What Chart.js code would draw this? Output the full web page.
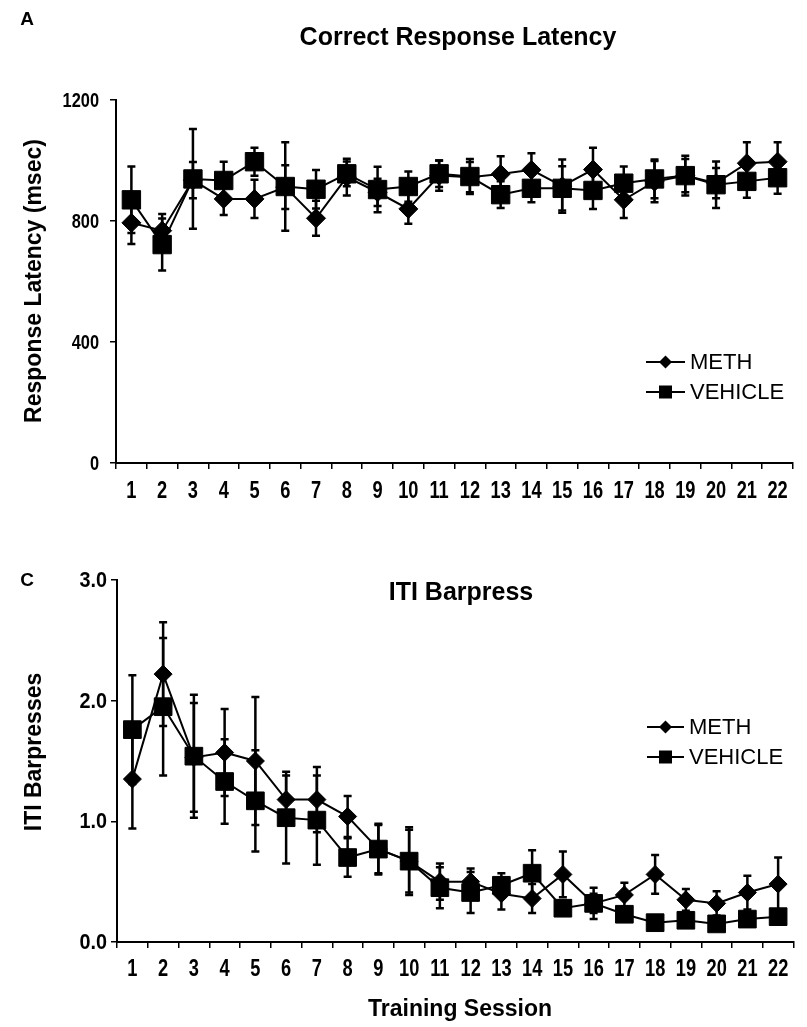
<!DOCTYPE html>
<html>
<head>
<meta charset="utf-8">
<script src="https://cdn.jsdelivr.net/npm/chart.js@4.4.0/dist/chart.umd.min.js"></script>
<style>
  html, body { margin: 0; padding: 0; background: #fff; }
  #page { position: relative; width: 807px; height: 1027px; overflow: hidden; }
  #latency { position: absolute; left: 0; top: 0; }
  #iti { position: absolute; left: 0; top: 540px; }
</style>
</head>
<body>
<div id="page">
  <canvas id="latency" width="807" height="520"></canvas>
  <canvas id="iti" width="807" height="487"></canvas>
</div>
<script>
// Training sessions on the x axis
const sessions = ['1','2','3','4','5','6','7','8','9','10','11','12','13','14','15','16','17','18','19','20','21','22'];

// Panel A: correct response latency (msec), mean and SEM
const latencyMeth       = [794, 768, 935, 873, 873, 912, 809, 945, 895, 840, 950, 945, 955, 969, 915, 970, 870, 930, 950, 925, 991, 996];
const latencyMethErr    = [ 70,  55,  60,  53,  63,  72,  58,  61,  45,  49,  50,  50,  59,  55,  88,  72,  60,  68,  55,  50,  69,  64];
const latencyVehicle    = [870, 722, 939, 934, 996, 914, 905, 956, 904, 914, 956, 947, 887, 908, 908, 901, 925, 939, 950, 920, 931, 943];
const latencyVehicleErr = [110,  86, 165,  62,  46, 146,  64,  41,  75,  50,  44,  58,  44,  46,  73,  61,  55,  64,  66,  77,  54,  53];
const latencyTicks      = [0, 400, 800, 1200];

// Panel C: ITI barpresses, mean and SEM
const itiMeth       = [1.35, 2.22, 1.53, 1.57, 1.50, 1.18, 1.18, 1.04, 0.77, 0.67, 0.50, 0.50, 0.40, 0.36, 0.56, 0.32, 0.39, 0.56, 0.35, 0.32, 0.41, 0.48];
const itiMethErr    = [0.41, 0.43, 0.45, 0.36, 0.53, 0.20, 0.27, 0.17, 0.20, 0.28, 0.15, 0.11, 0.13, 0.12, 0.19, 0.08, 0.10, 0.16, 0.09, 0.10, 0.14, 0.22];
const itiVehicle    = [1.76, 1.95, 1.54, 1.33, 1.17, 1.03, 1.01, 0.70, 0.77, 0.67, 0.45, 0.41, 0.47, 0.57, 0.28, 0.32, 0.23, 0.16, 0.18, 0.15, 0.19, 0.21];
const itiVehicleErr = [0.45, 0.57, 0.51, 0.35, 0.42, 0.38, 0.37, 0.16, 0.21, 0.26, 0.17, 0.17, 0.10, 0.19, 0.06, 0.13, 0.05, 0.04, 0.04, 0.04, 0.05, 0.06];
const itiTicks      = [0, 1, 2, 3];

const seriesNames = ['METH', 'VEHICLE'];

const SANS = "'Liberation Sans', Arial, Helvetica, sans-serif";

// Text helper: anchor, optional horizontal squeeze (narrow face look) and rotation
function drawText(ctx, t) {
  ctx.save();
  ctx.fillStyle = '#000';
  ctx.font = t.font;
  ctx.textAlign = t.align || 'center';
  ctx.textBaseline = 'middle';
  ctx.translate(t.x, t.y);
  ctx.scale(t.sx || 1, 1);
  if (t.rotate) ctx.rotate(t.rotate);
  ctx.fillText(t.text, 0, 0);
  ctx.restore();
}

// Vertical SEM bars with caps, drawn beneath the markers
const errorBars = {
  id: 'errorBars',
  beforeDatasetsDraw(chart, args, opts) {
    const ctx = chart.ctx;
    const y = chart.scales.y;
    const cap = opts.cap;
    ctx.save();
    ctx.strokeStyle = '#000';
    ctx.lineWidth = opts.width;
    chart.data.datasets.forEach((ds, di) => {
      if (!ds.errors || !chart.isDatasetVisible(di)) return;
      const meta = chart.getDatasetMeta(di);
      ds.data.forEach((v, i) => {
        const e = ds.errors[i];
        const px = meta.data[i].x;
        const hi = y.getPixelForValue(v + e);
        const lo = y.getPixelForValue(Math.max(0, v - e));
        ctx.beginPath();
        ctx.moveTo(px, hi); ctx.lineTo(px, lo);
        ctx.moveTo(px - cap, hi); ctx.lineTo(px + cap, hi);
        ctx.moveTo(px - cap, lo); ctx.lineTo(px + cap, lo);
        ctx.stroke();
      });
    });
    ctx.restore();
  }
};

// Line-and-marker key, one row per series
const seriesKey = {
  id: 'seriesKey',
  afterDraw(chart, args, opts) {
    const ctx = chart.ctx;
    chart.data.datasets.forEach((ds, di) => {
      const yy = opts.rows[di];
      ctx.save();
      ctx.fillStyle = '#000';
      ctx.strokeStyle = '#000';
      ctx.lineWidth = 2;
      ctx.beginPath();
      ctx.moveTo(opts.lineFrom, yy);
      ctx.lineTo(opts.lineTo, yy);
      ctx.stroke();
      const cx = (opts.lineFrom + opts.lineTo) / 2;
      ctx.beginPath();
      if (ds.pointStyle === 'rectRot') {
        const r = opts.diamond;
        ctx.moveTo(cx, yy - r); ctx.lineTo(cx + r, yy); ctx.lineTo(cx, yy + r); ctx.lineTo(cx - r, yy);
      } else {
        const h = opts.square;
        ctx.rect(cx - h, yy - h, 2 * h, 2 * h);
      }
      ctx.closePath();
      ctx.fill();
      ctx.restore();
      drawText(ctx, { text: ds.label, x: opts.textX, y: yy + 1, font: opts.font, align: 'left' });
    });
  }
};

// Tick labels placed on the scales' own tick positions, plus panel letter and headings
const figureText = {
  id: 'figureText',
  afterDraw(chart, args, opts) {
    const ctx = chart.ctx;
    const xs = chart.scales.x, ys = chart.scales.y;
    xs.ticks.forEach((t, i) => {
      drawText(ctx, { text: xs.getLabelForValue(t.value), x: xs.getPixelForTick(i), y: opts.xLabelY,
        font: opts.xTickFont, sx: opts.xSqueeze });
    });
    ys.ticks.forEach((t, i) => {
      drawText(ctx, { text: opts.yFormat(t.value), x: opts.yLabelRight, y: ys.getPixelForTick(i) + 1,
        font: opts.yTickFont, sx: opts.ySqueeze, align: 'right' });
    });
    opts.items.forEach(it => drawText(ctx, it));
  }
};

function series(label, data, errors, style, radius, order) {
  return {
    label, data, errors,
    borderColor: '#000', backgroundColor: '#000',
    borderWidth: 2,
    pointStyle: style, pointRadius: radius, pointHoverRadius: radius,
    pointBackgroundColor: '#000', pointBorderColor: '#000', pointBorderWidth: 1,
    tension: 0, fill: false, order
  };
}

function axisX(height) {
  return {
    type: 'category',
    offset: true,
    afterFit(s) { s.height = height; },
    ticks: { display: false, autoSkip: false },
    grid: { offset: true, drawOnChartArea: false, drawTicks: true, tickLength: 6, color: '#000', lineWidth: 1.5 },
    border: { display: true, color: '#000', width: 2 }
  };
}

function axisY(width, min, max, ticks) {
  return {
    min, max,
    afterFit(s) { s.width = width; },
    afterBuildTicks(s) { s.ticks = ticks.map(v => ({ value: v })); },
    ticks: { display: false },
    grid: { drawOnChartArea: false, drawTicks: true, tickLength: 6, color: '#000', lineWidth: 1.5 },
    border: { display: true, color: '#000', width: 2 }
  };
}

const basePlugins = { legend: { display: false }, tooltip: { enabled: false }, title: { display: false } };

new Chart(document.getElementById('latency'), {
  type: 'line',
  data: {
    labels: sessions,
    datasets: [
      series(seriesNames[0], latencyMeth, latencyMethErr, 'rectRot', 9.5, 1),
      series(seriesNames[1], latencyVehicle, latencyVehicleErr, 'rect', 13, 0)
    ]
  },
  options: {
    responsive: false, animation: false, events: [],
    layout: { padding: { top: 100, right: 14, bottom: 0, left: 0 } },
    scales: { x: axisX(57), y: axisY(116, 0, 1200, latencyTicks) },
    plugins: Object.assign({}, basePlugins, {
      errorBars: { cap: 4, width: 2.5 },
      seriesKey: { lineFrom: 646, lineTo: 685, textX: 690, rows: [362, 392], diamond: 6.5, square: 6.5, font: '22px ' + SANS },
      figureText: {
        xLabelY: 491, xTickFont: 'bold 24px ' + SANS, xSqueeze: 0.76,
        yLabelRight: 99, yTickFont: 'bold 21px ' + SANS, ySqueeze: 0.78, yFormat: v => String(v),
        items: [
          { text: 'A', x: 27, y: 20, font: 'bold 19px ' + SANS },
          { text: 'Correct Response Latency', x: 458, y: 38, font: 'bold 25px ' + SANS },
          { text: 'Response Latency (msec)', x: 35, y: 281, font: 'bold 23px ' + SANS, rotate: -Math.PI / 2 }
        ]
      }
    })
  },
  plugins: [errorBars, seriesKey, figureText]
});

new Chart(document.getElementById('iti'), {
  type: 'line',
  data: {
    labels: sessions,
    datasets: [
      series(seriesNames[0], itiMeth, itiMethErr, 'rectRot', 9, 1),
      series(seriesNames[1], itiVehicle, itiVehicleErr, 'rect', 12.5, 0)
    ]
  },
  options: {
    responsive: false, animation: false, events: [],
    layout: { padding: { top: 40, right: 1, bottom: 0, left: 0 } },
    scales: { x: axisX(85), y: axisY(117, 0, 3, itiTicks) },
    plugins: Object.assign({}, basePlugins, {
      errorBars: { cap: 4, width: 2.5 },
      seriesKey: { lineFrom: 647, lineTo: 684, textX: 689, rows: [727 - 540, 757 - 540], diamond: 6.5, square: 6.5, font: '22px ' + SANS },
      figureText: {
        xLabelY: 429, xTickFont: 'bold 24px ' + SANS, xSqueeze: 0.76,
        yLabelRight: 107, yTickFont: 'bold 22px ' + SANS, ySqueeze: 0.9, yFormat: v => Number(v).toFixed(1),
        items: [
          { text: 'C', x: 27, y: 41, font: 'bold 19px ' + SANS },
          { text: 'ITI Barpress', x: 461, y: 53, font: 'bold 25px ' + SANS },
          { text: 'ITI Barpresses', x: 35, y: 212, font: 'bold 23px ' + SANS, rotate: -Math.PI / 2 },
          { text: 'Training Session', x: 460, y: 470, font: 'bold 23px ' + SANS }
        ]
      }
    })
  },
  plugins: [errorBars, seriesKey, figureText]
});
</script>
</body>
</html>
